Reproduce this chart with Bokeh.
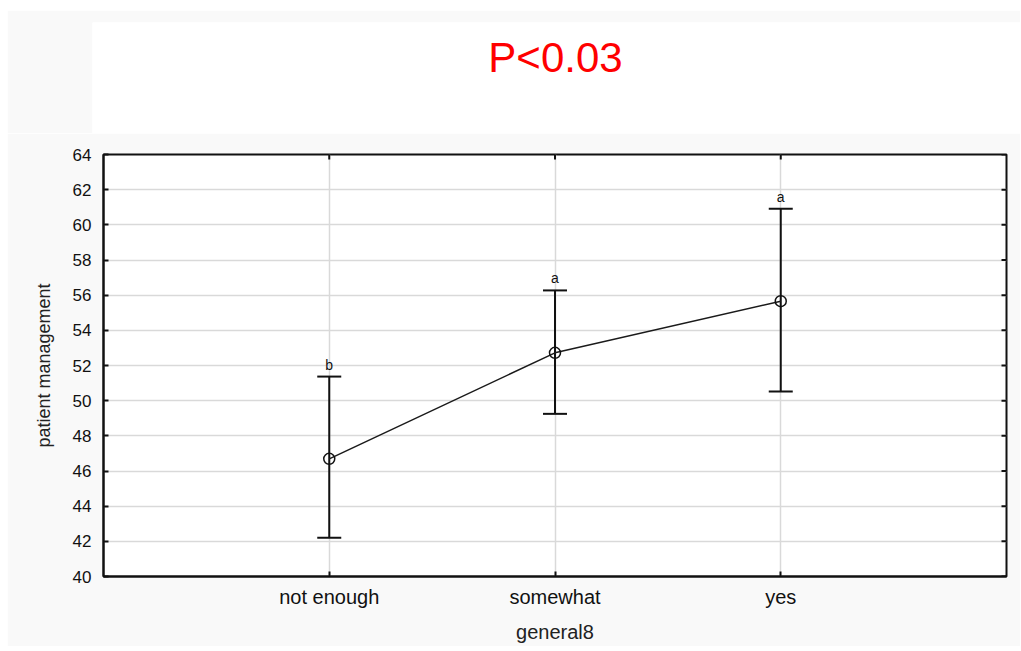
import math
from bokeh.plotting import figure
from bokeh.models import ColumnDataSource, Range1d, FixedTicker, Whisker, TeeHead
from bokeh.layouts import column
from bokeh.core.properties import value
from bokeh.embed import file_html
from bokeh.resources import INLINE

# ---- data ----
categories = ["not enough", "somewhat", "yes"]
means = [46.69, 52.72, 55.66]
upper = [51.37, 56.27, 60.92]
lower = [42.2, 49.25, 50.52]
letters = ["b", "a", "a"]
y_ticks = [40, 42, 44, 46, 48, 50, 52, 54, 56, 58, 60, 62, 64]
title_text = "P<0.03"
x_label = "general8"
y_label = "patient management"

FONT = "Liberation Sans"
BG = "#f9f9f9"
X_MIN, X_MAX = 0, 4
Y_MIN, Y_MAX = 40, 64

xs = [i + 1 for i in range(len(categories))]
src = ColumnDataSource(dict(x=xs, mean=means, upper=upper, lower=lower, letter=letters))

# ---- title panel ----
t = figure(width=1013, height=123, x_range=Range1d(0, 928), y_range=Range1d(0, 111),
           output_backend="svg", toolbar_location=None,
           x_axis_location=None, y_axis_location=None,
           min_border_left=85, min_border_top=12, min_border_right=0, min_border_bottom=0,
           margin=(10, 0, 0, 7))
t.border_fill_color = BG
t.background_fill_color = "white"
t.outline_line_color = None
t.grid.visible = False
t.text(x=[463], y=[76], text=[title_text], text_font=value(FONT), text_font_size="42px",
       text_color="#ff0000", text_align="center", text_baseline="alphabetic")

# ---- main chart ----
p = figure(width=1013, height=513, x_range=Range1d(X_MIN, X_MAX), y_range=Range1d(Y_MIN, Y_MAX),
           output_backend="svg", toolbar_location=None,
           min_border_left=96, min_border_top=21, min_border_right=14, min_border_bottom=70,
           margin=(0, 0, 0, 7))
p.border_fill_color = BG
p.background_fill_color = "white"
p.outline_line_color = "#111111"
p.outline_line_width = 2

if "frame_align" in figure.properties():
    t.frame_align = False
    p.frame_align = False

p.xaxis.ticker = FixedTicker(ticks=xs)
p.xaxis.major_label_overrides = {x: c for x, c in zip(xs, categories)}
p.yaxis.ticker = FixedTicker(ticks=y_ticks)

for ax in p.xaxis + p.yaxis:
    ax.axis_line_color = "#111111"
    ax.axis_line_width = 2
    ax.major_tick_in = 5
    ax.major_tick_out = 0
    ax.major_tick_line_color = "#111111"
    ax.major_tick_line_width = 2
    ax.minor_tick_line_color = None
    ax.major_label_text_font = FONT
    ax.major_label_text_color = "#111111"
    ax.axis_label_text_font = FONT
    ax.axis_label_text_font_style = "normal"
    ax.axis_label_text_color = "#222222"

p.yaxis.major_label_text_font_size = "17px"
p.yaxis.major_label_standoff = 12
p.yaxis.axis_label = y_label
p.yaxis.axis_label_text_font_size = "18px"
p.yaxis.axis_label_standoff = 16

p.xaxis.major_label_text_font_size = "20px"
p.xaxis.major_label_standoff = 9
p.xaxis.axis_label = x_label
p.xaxis.axis_label_text_font_size = "20px"
p.xaxis.axis_label_standoff = 10

p.xgrid.ticker = FixedTicker(ticks=xs)
p.ygrid.ticker = FixedTicker(ticks=y_ticks[1:-1])
p.grid.grid_line_color = "#d9d9d9"
p.grid.grid_line_width = 1.5

# inward tick marks on right and top edges (outer half clipped by the frame)
p.scatter(x=[X_MAX] * len(y_ticks), y=y_ticks, marker="dash", size=10,
          line_color="#111111", line_width=2)
p.scatter(x=xs, y=[Y_MAX] * len(xs), marker="dash", size=10, angle=math.pi / 2,
          line_color="#111111", line_width=2)

w = Whisker(base="x", upper="upper", lower="lower", source=src, dimension="height",
            line_color="#111111", line_width=2,
            upper_head=TeeHead(size=24, line_color="#111111", line_width=2),
            lower_head=TeeHead(size=24, line_color="#111111", line_width=2))
p.add_layout(w)

p.line(x="x", y="mean", source=src, line_color="#1a1a1a", line_width=1.5)
p.scatter(x="x", y="mean", source=src, size=11, marker="circle",
          fill_color=None, line_color="#111111", line_width=1.5)

p.text(x="x", y="upper", text="letter", source=src, text_font=value(FONT),
       text_font_size="14px", text_color="#111111", text_align="center",
       text_baseline="alphabetic", y_offset=-12)

layout = column(t, p, spacing=0)
open("out.html", "w").write(file_html(layout, INLINE))
